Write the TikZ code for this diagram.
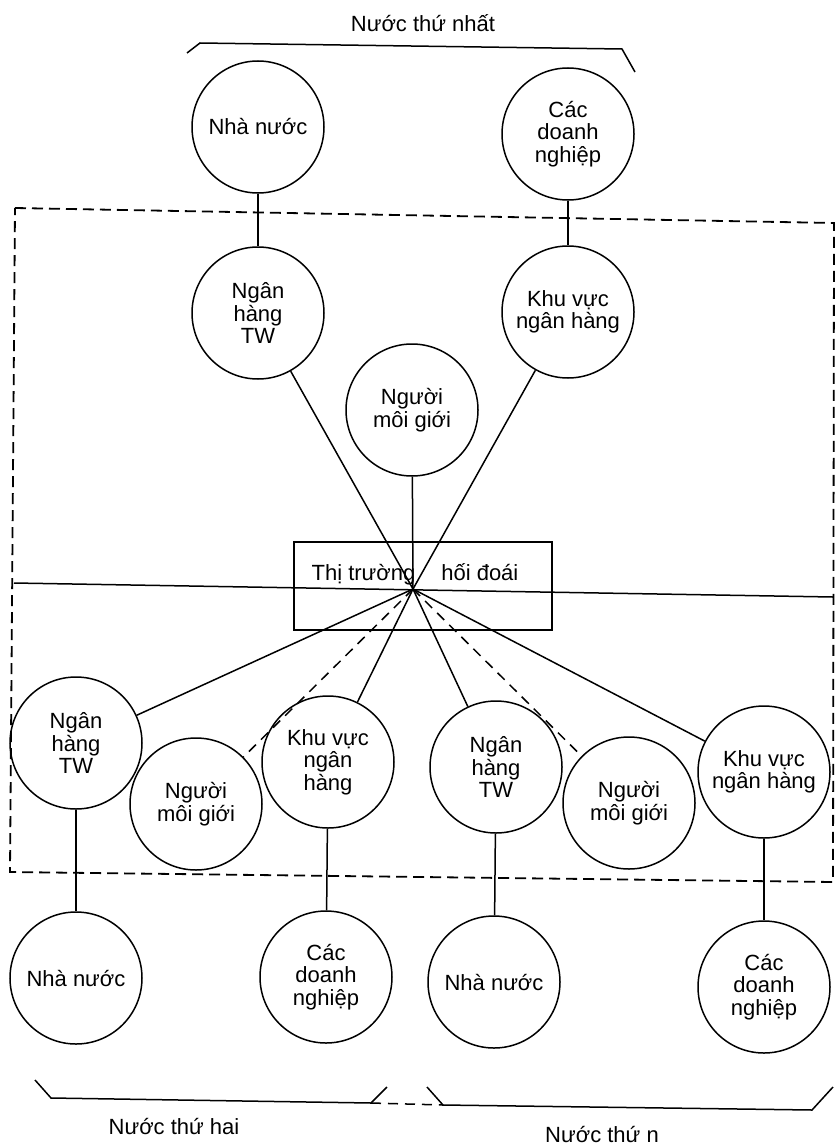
\documentclass[tikz,border=0pt]{standalone}
\usepackage{fontspec}
\setmainfont{Liberation Sans}

\begin{document}
\begin{tikzpicture}[
  x=1pt, y=-1pt,
  every node/.style = {font=\fontsize{22}{22.5}\selectfont, align=center},
  actor/.style = {shape=circle, draw, line width=1.5pt, minimum size=132pt, inner sep=0pt}
  ]
  \useasboundingbox (0,0) rectangle (837,1148);

  \tikzset{Link/.style = {line width=1.5pt}}
  \tikzset{LinkDash/.style = {line width=1.5pt, dash pattern=on 10pt off 7pt}}
  \tikzset{Frame/.style = {line width=1.8pt, dash pattern=on 11pt off 6pt}}

  % nuoc thu nhat
  \node (nuoc1) at (423,23) {Nước thứ nhất};
  \node[actor] (nhanuoc1) at (258,127) {Nhà nước};
  \node[actor] (doanhnghiep1) at (568,134) {Các\\doanh\\nghiệp};
  \node[actor] (nganhang1) at (258,313) {Ngân\\hàng\\TW};
  \node[actor] (khuvuc1) at (568,312) {Khu vực\\ngân hàng};
  \node[actor] (moigioi1) at (412,410) {Người\\môi giới};

  % thi truong
  \coordinate (cho) at (413,589);
  \node[draw, line width=1.5pt, minimum width=258pt, minimum height=88pt] (khung) at (423,586) {};
  \node (hoidoai) at (415,574) {Thị trường\hspace{26pt}hối đoái};

  % nuoc thu hai, nuoc thu n
  \node[actor] (nganhang2) at (76,743) {Ngân\\hàng\\TW};
  \node[actor] (moigioi2) at (196,804) {Người\\môi giới};
  \node[actor] (khuvuc2) at (328,762) {Khu vực\\ngân\\hàng};
  \node[actor] (nganhang3) at (496,767) {Ngân\\hàng\\TW};
  \node[actor] (moigioi3) at (629,803) {Người\\môi giới};
  \node[actor] (khuvuc3) at (764,772) {Khu vực\\ngân hàng};
  \node[actor] (nhanuoc2) at (76,978) {Nhà nước};
  \node[actor] (doanhnghiep2) at (326,977) {Các\\doanh\\nghiệp};
  \node[actor] (nhanuoc3) at (494,982) {Nhà nước};
  \node[actor] (doanhnghiep3) at (764,987) {Các\\doanh\\nghiệp};
  \node (nuoc2) at (174,1126) {Nước thứ hai};
  \node (nuocn) at (602,1134) {Nước thứ n};

  \draw[Link] (nhanuoc1) -- (nganhang1);
  \draw[Link] (doanhnghiep1) -- (khuvuc1);
  \draw[Link] (cho) -- (nganhang1);
  \draw[Link] (cho) -- (khuvuc1);
  \draw[Link] (cho) -- (moigioi1);
  \draw[Link] (cho) -- (nganhang2);
  \draw[LinkDash] (cho) -- (moigioi2);
  \draw[Link] (cho) -- (khuvuc2);
  \draw[Link] (cho) -- (nganhang3);
  \draw[LinkDash] (cho) -- (moigioi3);
  \draw[Link] (cho) -- (khuvuc3);
  \draw[Link] (nganhang2) -- (nhanuoc2);
  \draw[Link] (khuvuc2) -- (doanhnghiep2);
  \draw[Link] (nganhang3) -- (nhanuoc3);
  \draw[Link] (khuvuc3) -- (doanhnghiep3);

  \coordinate (ngangL) at (14,583);
  \coordinate (ngangR) at (833,597);
  \draw[Link] (ngangL) -- (ngangR);

  \coordinate (khungA) at (15,208);
  \coordinate (khungB) at (834,223);
  \coordinate (khungC) at (833,882);
  \coordinate (khungD) at (10,872);
  \draw[Frame] (khungA) -- (khungB) -- (khungC) -- (khungD) -- cycle;

  % ngoac
  \draw[Link] (187,53) -- (200,43) -- (622,49) -- (635,72);
  \coordinate (ngoacL) at (371,1103);
  \coordinate (ngoacR) at (443,1105);
  \draw[Link] (35,1080) -- (51,1098) -- (ngoacL) -- (387,1087);
  \draw[Link] (427,1087) -- (ngoacR) -- (812,1110) -- (833,1087);
  \draw[LinkDash] (ngoacL) -- (ngoacR);

\end{tikzpicture}
\end{document}
